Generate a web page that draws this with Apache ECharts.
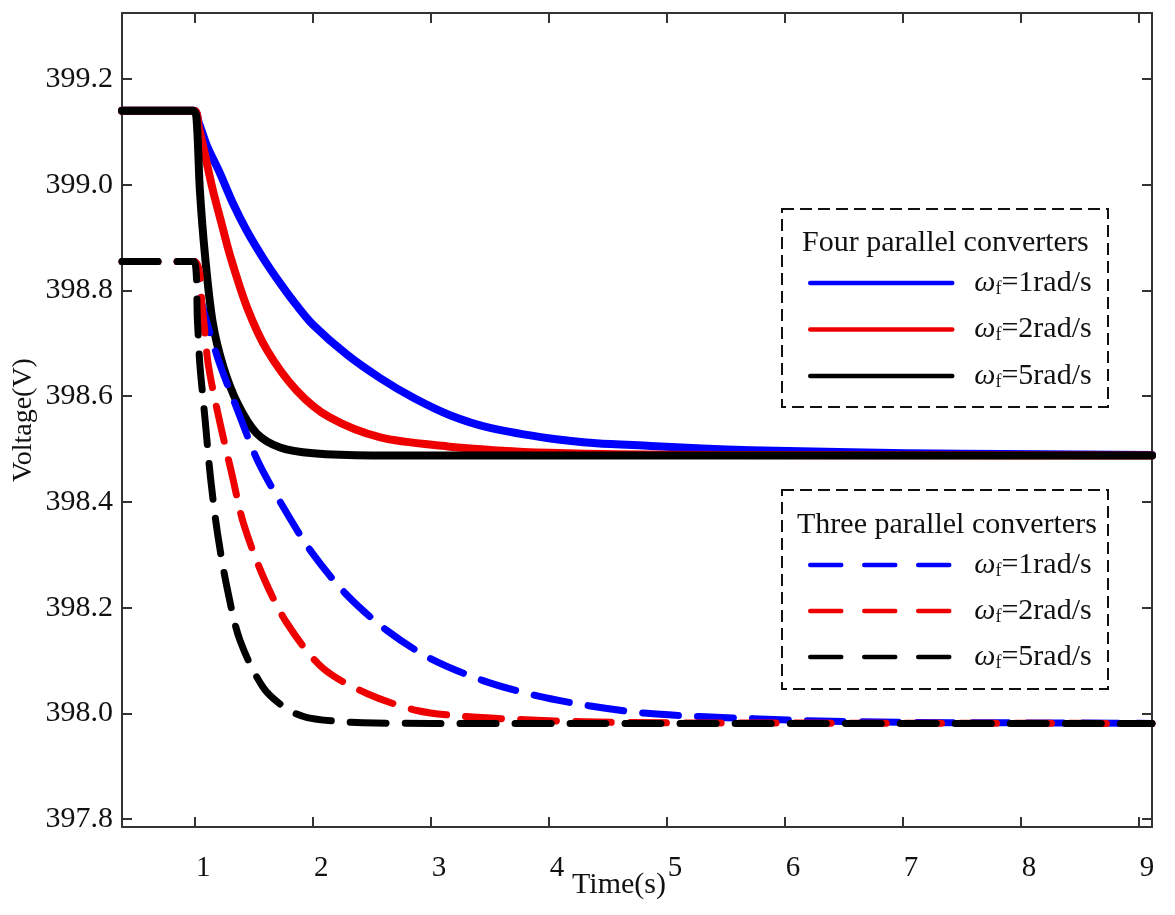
<!DOCTYPE html>
<html>
<head>
<meta charset="utf-8">
<script src="https://cdn.jsdelivr.net/npm/echarts@6/dist/echarts.min.js"></script>
<style>
html, body { margin: 0; padding: 0; background: #fff; }
#main { width: 1175px; height: 915px; }
</style>
</head>
<body>
<div id="main"></div>
<script>
// four parallel converters (solid)
var fourT1 = [0.38, 0.99, 1.03, 1.1, 1.21, 1.32, 1.44, 1.58, 1.72, 1.86, 2.0, 2.29, 2.57, 2.85, 3.16, 3.5, 4.01, 4.4, 4.86, 5.3, 5.71, 6.56, 7.5, 9.11];
var fourV1 = [399.14, 399.14, 399.118, 399.074, 399.022, 398.965, 398.912, 398.86, 398.814, 398.772, 398.735, 398.678, 398.634, 398.597, 398.564, 398.54, 398.52, 398.511, 398.506, 398.501, 398.498, 398.494, 398.491, 398.489];
var fourT2 = [0.38, 0.99, 1.03, 1.09, 1.15, 1.22, 1.30, 1.44, 1.61, 1.86, 2.14, 2.57, 3.14, 3.6, 4.0, 4.58, 5.5, 9.11];
var fourV2 = [399.14, 399.14, 399.11, 399.05, 398.99, 398.93, 398.863, 398.768, 398.687, 398.611, 398.56, 398.522, 398.505, 398.497, 398.493, 398.49, 398.489, 398.488];
var fourT5 = [0.38, 0.98, 1.01, 1.04, 1.085, 1.15, 1.24, 1.36, 1.52, 1.72, 2.0, 2.5, 9.11];
var fourV5 = [399.14, 399.14, 399.13, 398.99, 398.863, 398.738, 398.655, 398.586, 398.53, 398.503, 398.492, 398.488, 398.488];

// three parallel converters (dashed)
var threeT1 = [0.38, 0.99, 1.04, 1.19, 1.36, 1.53, 1.75, 1.99, 2.29, 2.63, 3.0, 3.44, 3.9, 4.35, 4.83, 5.28, 5.73, 6.19, 7.0, 8.0, 9.11];
var threeV1 = [398.855, 398.855, 398.79, 398.673, 398.573, 398.478, 398.389, 398.304, 398.223, 398.156, 398.103, 398.062, 398.033, 398.014, 398.0, 397.994, 397.99, 397.986, 397.983, 397.982, 397.981];
var threeT2 = [0.38, 0.99, 1.06, 1.11, 1.2, 1.31, 1.41, 1.58, 1.78, 2.08, 2.46, 2.89, 3.3, 3.8, 4.3, 5.0, 9.11];
var threeV2 = [398.855, 398.855, 398.768, 398.662, 398.56, 398.454, 398.359, 398.257, 398.17, 398.086, 398.037, 398.005, 397.994, 397.988, 397.984, 397.982, 397.981];
var threeT5 = [0.38, 0.99, 1.02, 1.04, 1.085, 1.13, 1.19, 1.27, 1.38, 1.58, 1.78, 1.95, 2.2, 2.42, 3.0, 9.11];
var threeV5 = [398.855, 398.855, 398.74, 398.66, 398.554, 398.446, 398.34, 398.238, 398.138, 398.048, 398.008, 397.992, 397.985, 397.982, 397.981, 397.981];

var omegaText = { four1: '1', four2: '2', four5: '5', three1: '1', three2: '2', three5: '5' };
var groupTitles = ['Four parallel converters', 'Three parallel converters'];

var xMin = 0.38, xMax = 9.11;
var yMin = 397.785, yMax = 399.325;

var FONT = '"Liberation Serif", "Times New Roman", serif';

function pairs(t, v) {
    var out = [];
    for (var i = 0; i < t.length; i++) {
        out.push([t[i], v[i]]);
    }
    return out;
}

function curve(name, t, v, color, dashed) {
    return {
        name: name,
        type: 'line',
        data: pairs(t, v),
        symbol: 'none',
        smooth: 0.3,
        clip: true,
        lineStyle: {
            color: color,
            width: dashed ? 7 : 8,
            type: dashed ? [36, 19] : 'solid',
            cap: 'round',
            join: 'round'
        },
        itemStyle: { color: color }
    };
}

var richText = {
    w: { fontFamily: FONT, fontStyle: 'italic', fontSize: 30, lineHeight: 30, padding: [0, 0, 0, 17], color: '#111' },
    s: { fontFamily: FONT, fontSize: 18, lineHeight: 6, verticalAlign: 'bottom', color: '#111' },
    t: { fontFamily: FONT, fontSize: 30, lineHeight: 30, color: '#111' }
};

function legendLabel(name) {
    return '{w|ω}{s|f}{t|=' + omegaText[name] + 'rad/s}';
}

var myChart = echarts.init(document.getElementById('main'));

var option = {
    animation: false,
    backgroundColor: '#fff',
    grid: { left: 122, right: 23, top: 13, bottom: 88, outerBoundsMode: 'none', containLabel: false },
    xAxis: [
        {
            type: 'value',
            min: xMin,
            max: xMax,
            splitNumber: 8,
            name: 'Time(s)',
            nameLocation: 'middle',
            nameGap: 43,
            nameMoveOverlap: false,
            nameTextStyle: { fontFamily: FONT, fontSize: 30, color: '#111', padding: [0, 36, 0, 0] },
            axisLine: { lineStyle: { color: '#333', width: 2 } },
            axisTick: { inside: true, length: 10, lineStyle: { color: '#333', width: 2 } },
            axisLabel: {
                fontFamily: FONT, fontSize: 29, color: '#111', margin: 27,
                padding: [0, 0, 0, 16], showMinLabel: false, showMaxLabel: false
            },
            splitLine: { show: false }
        },
        {
            type: 'value',
            position: 'top',
            min: xMin,
            max: xMax,
            splitNumber: 8,
            axisLine: { lineStyle: { color: '#333', width: 2 } },
            axisTick: { inside: true, length: 10, lineStyle: { color: '#333', width: 2 } },
            axisLabel: { show: false },
            splitLine: { show: false }
        }
    ],
    yAxis: [
        {
            type: 'value',
            min: yMin,
            max: yMax,
            splitNumber: 8,
            name: 'Voltage(V)',
            nameLocation: 'middle',
            nameGap: 84,
            nameMoveOverlap: false,
            nameTextStyle: { fontFamily: FONT, fontSize: 28, color: '#111' },
            axisLine: { lineStyle: { color: '#333', width: 2 } },
            axisTick: { inside: true, length: 10, lineStyle: { color: '#333', width: 2 } },
            axisLabel: {
                fontFamily: FONT, fontSize: 30, color: '#111', margin: 9,
                showMinLabel: false, showMaxLabel: false,
                formatter: function (v) { return v.toFixed(1); }
            },
            splitLine: { show: false }
        },
        {
            type: 'value',
            position: 'right',
            min: yMin,
            max: yMax,
            splitNumber: 8,
            axisLine: { lineStyle: { color: '#333', width: 2 } },
            axisTick: { inside: true, length: 10, lineStyle: { color: '#333', width: 2 } },
            axisLabel: { show: false },
            splitLine: { show: false }
        }
    ],
    legend: [
        {
            data: ['four1', 'four2', 'four5'],
            orient: 'vertical',
            left: 808,
            top: 268,
            padding: 0,
            itemWidth: 142,
            itemHeight: 30,
            itemGap: 16.5,
            selectedMode: false,
            itemStyle: { opacity: 0 },
            lineStyle: { width: 4.5, type: 'solid' },
            formatter: legendLabel,
            textStyle: { fontFamily: FONT, fontSize: 30, color: '#111', rich: richText }
        },
        {
            data: ['three1', 'three2', 'three5'],
            orient: 'vertical',
            left: 808,
            top: 550,
            padding: 0,
            itemWidth: 142,
            itemHeight: 30,
            itemGap: 16,
            selectedMode: false,
            itemStyle: { opacity: 0 },
            lineStyle: { width: 4.5, type: [31, 23] },
            formatter: legendLabel,
            textStyle: { fontFamily: FONT, fontSize: 30, color: '#111', rich: richText }
        }
    ],
    graphic: [
        {
            type: 'rect',
            shape: { x: 782, y: 209, width: 326, height: 198 },
            style: { fill: 'none', stroke: '#111', lineWidth: 2, lineDash: [12, 6] }
        },
        {
            type: 'rect',
            shape: { x: 782, y: 490, width: 326, height: 199 },
            style: { fill: 'none', stroke: '#111', lineWidth: 2, lineDash: [12, 6] }
        },
        {
            type: 'text',
            x: 802,
            y: 243,
            style: { text: groupTitles[0], fontFamily: FONT, fontSize: 30, fill: '#111', verticalAlign: 'middle' }
        },
        {
            type: 'text',
            x: 797,
            y: 525,
            style: { text: groupTitles[1], fontFamily: FONT, fontSize: 30, fill: '#111', verticalAlign: 'middle' }
        }
    ],
    series: [
        curve('four1', fourT1, fourV1, '#0000ff', false),
        curve('four2', fourT2, fourV2, '#ee0000', false),
        curve('four5', fourT5, fourV5, '#000000', false),
        curve('three1', threeT1, threeV1, '#0000ff', true),
        curve('three2', threeT2, threeV2, '#ee0000', true),
        curve('three5', threeT5, threeV5, '#000000', true)
    ]
};

myChart.setOption(option);
</script>
</body>
</html>
